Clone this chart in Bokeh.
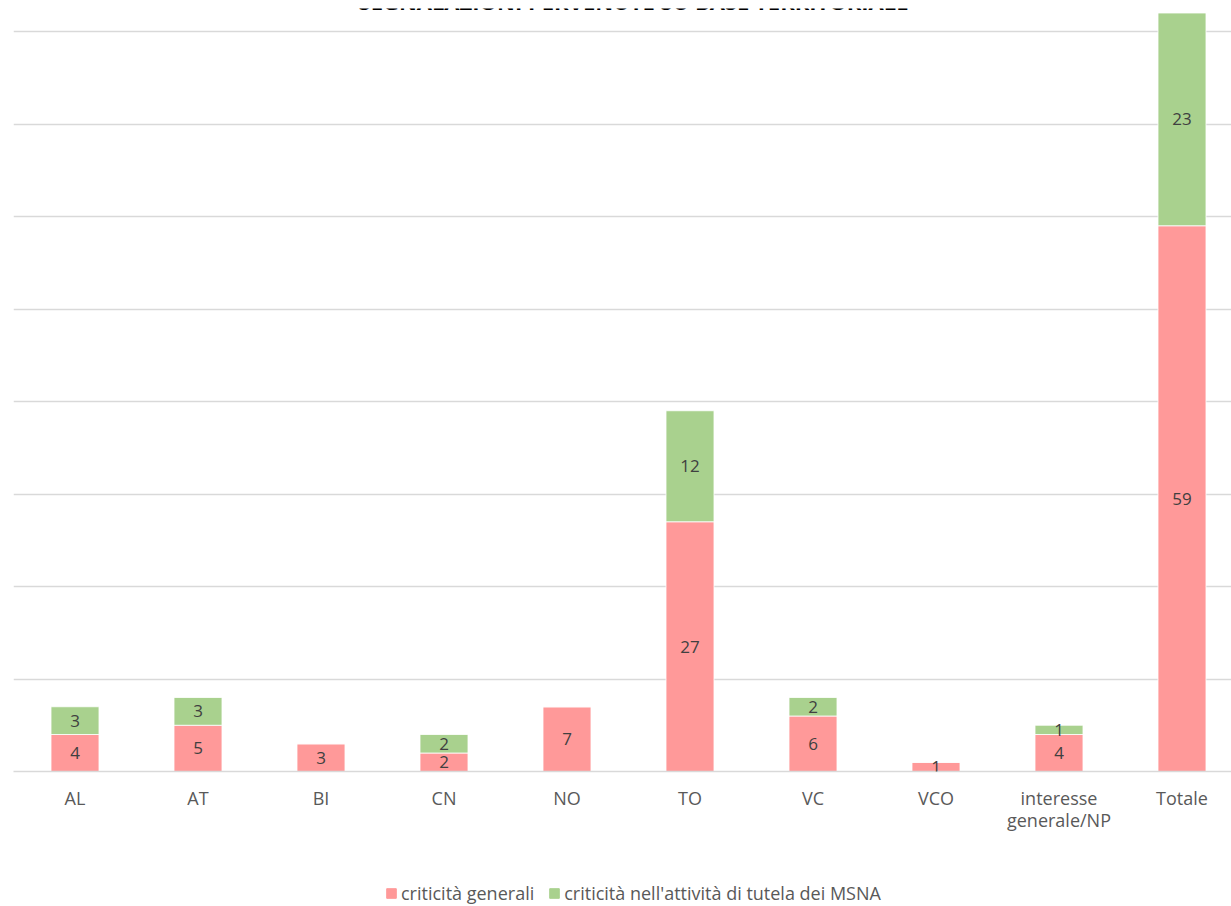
from bokeh.plotting import figure
from bokeh.layouts import column
from bokeh.models import (ColumnDataSource, Range1d, FixedTicker, LabelSet, Label,
                          Legend, LegendItem)
from bokeh.core.properties import value
from bokeh.embed import file_html
from bokeh.resources import INLINE

title_text = "SEGNALAZIONI PERVENUTE SU BASE TERRITORIALE"
categories = ["AL", "AT", "BI", "CN", "NO", "TO", "VC", "VCO", "interesse\ngenerale/NP", "Totale"]
generali = [4, 5, 3, 2, 7, 27, 6, 1, 4, 59]
msna = [3, 3, 0, 2, 0, 12, 2, 0, 1, 23]
series_names = ["criticità generali", "criticità nell'attività di tutela dei MSNA"]
colors = ["#FF9999", "#A9D18E"]
grid_ticks = [0, 10, 20, 30, 40, 50, 60, 70, 80]

xs = list(range(len(categories)))
src = ColumnDataSource(dict(
    x=xs, gen=generali, msna=msna,
    gen_mid=[g / 2 for g in generali],
    msna_mid=[g + m / 2 for g, m in zip(generali, msna)],
    gen_txt=[str(g) if g > 0 else "" for g in generali],
    msna_txt=[str(m) if m > 0 else "" for m in msna],
))

p = figure(width=1231, height=860, output_backend="svg", toolbar_location=None,
           x_range=Range1d(-0.5, -0.5 + 1218 / 123), y_range=Range1d(0, 763 / 9.25),
           min_border_left=13, min_border_right=0, min_border_top=8, min_border_bottom=89)
p.outline_line_color = None
p.background_fill_color = "white"
p.border_fill_color = "white"

r = p.vbar_stack(["gen", "msna"], x="x", width=0.39, source=src, color=colors,
                 line_color="white", line_width=0.8)

p.yaxis.visible = False
p.xgrid.grid_line_color = None
p.ygrid.ticker = FixedTicker(ticks=grid_ticks)
p.ygrid.grid_line_color = "#D9D9D9"
p.ygrid.grid_line_width = 1.3

ax = p.xaxis[0]
ax.ticker = FixedTicker(ticks=xs)
ax.major_label_overrides = {i: c for i, c in enumerate(categories)}
ax.axis_line_color = "#D9D9D9"
ax.axis_line_width = 1.3
ax.major_tick_line_color = None
ax.minor_tick_line_color = None
ax.major_label_text_color = "#595959"
ax.major_label_text_font = "Open Sans"
ax.major_label_text_font_size = "18px"
ax.major_label_text_line_height = 0.95
ax.major_label_standoff = 8

for col_y, col_t in (("gen_mid", "gen_txt"), ("msna_mid", "msna_txt")):
    p.add_layout(LabelSet(x="x", y=col_y, text=col_t, source=src,
                          text_align="center", text_baseline="middle",
                          text_color="#404040", text_font=value("Open Sans"),
                          text_font_size=value("17px")))

p.add_layout(Label(x=-0.5 + (633 - 13) / 123, y=771 / 9.25, text=title_text,
                   text_align="center", text_baseline="alphabetic", text_color="black",
                   text_font="Open Sans", text_font_style="bold", text_font_size="22px"))

# legend strip below the chart (its bars are scrolled out of view; only legend shows)
p2 = figure(width=1231, height=46, output_backend="svg", toolbar_location=None,
            x_range=Range1d(100, 101), y_range=Range1d(1000, 1001),
            min_border_left=0, min_border_right=0, min_border_top=0, min_border_bottom=0)
p2.axis.visible = False
p2.grid.visible = False
p2.outline_line_color = None
lr = p2.vbar_stack(["gen", "msna"], x="x", width=0.39, source=src, color=colors)
legend = Legend(items=[LegendItem(label=series_names[0], renderers=[lr[0]]),
                       LegendItem(label=series_names[1], renderers=[lr[1]])],
                orientation="horizontal", location=(372, 1),
                label_text_font="Open Sans", label_text_font_size="18px",
                label_text_color="#595959", glyph_width=12, glyph_height=12,
                label_standoff=4, spacing=14, border_line_color=None,
                background_fill_alpha=0, margin=0, padding=0)
p2.add_layout(legend, "center")

layout = column(p, p2, spacing=0)
open("out.html", "w").write(file_html(layout, INLINE))
